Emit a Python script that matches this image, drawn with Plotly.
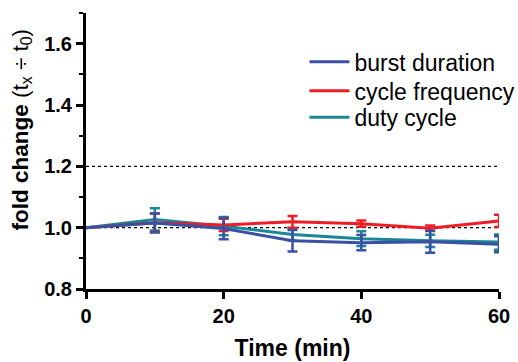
import plotly.graph_objects as go

time = [0, 10, 20, 30, 40, 50, 60]
burst = [1.0, 1.015, 0.997, 0.957, 0.951, 0.954, 0.946]
burst_err = [0, 0.031, 0.035, 0.035, 0.025, 0.036, 0.026]
cycle = [1.0, 1.016, 1.009, 1.019, 1.013, 0.998, 1.022]
cycle_err = [0, 0.03, 0.02, 0.019, 0.01, 0.009, 0.02]
duty = [1.0, 1.027, 1.005, 0.978, 0.964, 0.957, 0.953]
duty_err = [0, 0.036, 0.03, 0.02, 0.024, 0.02, 0.025]

ref_lines = [1.0, 1.2]

BLUE = "#3A51A3"
RED = "#EE1C25"
TEAL = "#1A8796"

fig = go.Figure()

def add(name, y, e, color, leg):
    fig.add_trace(go.Scatter(
        x=time, y=y, name=name, mode="lines",
        line=dict(color=color, width=3),
        error_y=dict(type="data", array=e, visible=True, color=color, thickness=2.5, width=5),
        legend=leg, cliponaxis=False,
    ))

add("duty cycle", duty, duty_err, TEAL, "legend3")
add("cycle frequency", cycle, cycle_err, RED, "legend2")
add("burst duration", burst, burst_err, BLUE, "legend")

for v in ref_lines:
    fig.add_shape(type="line", xref="paper", x0=0, x1=1, yref="y", y0=v, y1=v,
                  line=dict(color="black", width=1.3, dash="3px,3px"), layer="below")

def leg(y):
    return dict(x=0.529, y=y, xanchor="left", yanchor="middle",
                font=dict(size=23, color="black"), bgcolor="rgba(0,0,0,0)", itemwidth=40)

fig.update_layout(
    width=518, height=362,
    margin=dict(l=86, r=19, t=13, b=73, autoexpand=False),
    paper_bgcolor="white", plot_bgcolor="white",
    font=dict(family="Liberation Sans, Arial, sans-serif", color="black"),
    legend=leg(0.823), legend2=leg(0.718), legend3=leg(0.622),
    showlegend=True,
)
fig.update_xaxes(
    range=[0, 60], tickvals=[0, 20, 40, 60], ticktext=["<b>0</b>", "<b>20</b>", "<b>40</b>", "<b>60</b>"],
    showline=True, linecolor="black", linewidth=3, ticks="outside", ticklen=7, tickwidth=3,
    tickcolor="black", showgrid=False, zeroline=False, tickfont=dict(size=20),
    title=dict(text="<b>Time (min)</b>", font=dict(size=23), standoff=14), automargin=False,
)
fig.update_yaxes(
    range=[0.8, 1.7], tickvals=[0.8, 1.0, 1.2, 1.4, 1.6],
    ticktext=["<b>0.8</b>", "<b>1.0</b>", "<b>1.2</b>", "<b>1.4</b>", "<b>1.6</b>"],
    showline=True, linecolor="black", linewidth=3, ticks="outside", ticklen=7, tickwidth=3,
    tickcolor="black", showgrid=False, zeroline=False, tickfont=dict(size=20),
    minor=dict(tickvals=[0.9, 1.1, 1.3, 1.5, 1.7], ticks="outside", ticklen=4, tickwidth=2, tickcolor="black"),
    automargin=False,
)
fig.add_annotation(
    text="<b>fold change</b> (t<sub>x</sub> ÷ t<sub>0</sub>)", textangle=-90,
    xref="paper", yref="paper", x=-0.155, y=0.578, xanchor="center", yanchor="middle",
    showarrow=False, font=dict(size=22.5),
)

# remove the browser's default 8px body margin so the figure fills the window exactly
fig.write_html("out.html", config={"displayModeBar": False},
               post_script="document.body.style.margin='0';")
